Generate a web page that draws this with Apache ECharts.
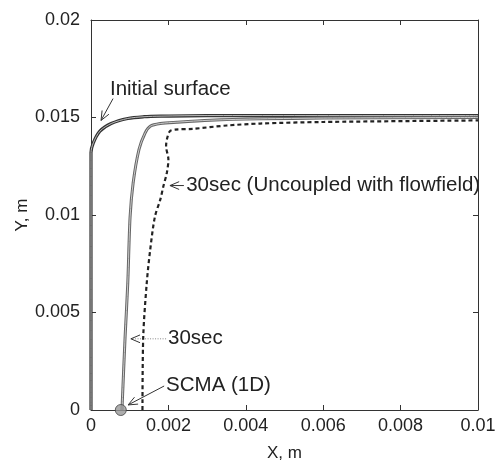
<!DOCTYPE html>
<html><head><meta charset="utf-8">
<script src="https://cdn.jsdelivr.net/npm/echarts@6/dist/echarts.min.js"></script>
<style>html,body{margin:0;padding:0;background:#fff}#c{width:496px;height:460px}</style>
</head><body><div id="c"></div>
<script>
const xTicks = [0, 0.002, 0.004, 0.006, 0.008, 0.01];
const yTicks = [0, 0.005, 0.01, 0.015, 0.02];
const initialSurface = [[0,0],[0,0.0132],[0.00006,0.0137],[0.00023,0.0143],[0.00052,0.01469],[0.00095,0.01495],[0.00137,0.01504],[0.00181,0.01507],[0.003,0.0151],[0.01,0.0151]];
const sec30 = [[0.0008,0],[0.00088,0.0037],[0.00095,0.0065],[0.00101,0.0099],[0.00109,0.01166],[0.00124,0.01336],[0.0014,0.01421],[0.00153,0.01455],[0.00179,0.01469],[0.00222,0.01476],[0.00308,0.01486],[0.00437,0.01493],[0.006,0.01497],[0.01,0.0150]];
const sec30Uncoupled = [[0.00133,0],[0.00135,0.00377],[0.00144,0.0065],[0.00153,0.00822],[0.00165,0.0099],[0.00179,0.01079],[0.00187,0.01147],[0.00196,0.01217],[0.002,0.01284],[0.00194,0.01353],[0.00196,0.01387],[0.00204,0.0143],[0.00217,0.01438],[0.00264,0.01442],[0.00351,0.01459],[0.00437,0.01469],[0.006,0.01477],[0.01,0.01485]];
const scma = [[0.00077, 0]];
// annotations: text anchor, arrow tail, arrow head (data units)
const notes = [
  {text:'Initial surface', at:[0.00049,0.01644], tail:[0.00057,0.01597], head:[0.00026,0.01485], dotted:false},
  {text:'30sec (Uncoupled with flowfield)', at:[0.00246,0.01151], tail:[0.00240,0.01151], head:[0.00204,0.01151], dotted:false},
  {text:'30sec', at:[0.00199,0.00365], tail:[0.00194,0.00365], head:[0.00103,0.00365], dotted:true},
  {text:'SCMA (1D)', at:[0.00194,0.00128], tail:[0.00189,0.00123], head:[0.00096,0.00026], dotted:false}
];
const FONT = '"Liberation Sans", Arial, sans-serif';
const chart = echarts.init(document.getElementById('c'));
const axCommon = {
  type:'value', splitLine:{show:false},
  axisLine:{show:true, onZero:false, lineStyle:{color:'#333', width:1}},
  axisTick:{show:true, inside:true, length:5, lineStyle:{color:'#333'}},
};
chart.setOption({
  animation:false,
  grid:{left:91, right:18, top:20, bottom:50, containLabel:false, outerBoundsMode:'none'},
  xAxis:[
    Object.assign({}, axCommon, {min:0, max:0.01, interval:0.002, position:'bottom',
      name:'X, m', nameLocation:'middle', nameGap:35, nameMoveOverlap:false, nameTextStyle:{fontSize:17, color:'#222', fontFamily:FONT},
      axisLabel:{fontSize:18, color:'#222', fontFamily:FONT, margin:7}}),
    Object.assign({}, axCommon, {min:0, max:0.01, interval:0.002, position:'top', axisLabel:{show:false}})
  ],
  yAxis:[
    Object.assign({}, axCommon, {min:0, max:0.02, interval:0.005, position:'left',
      name:'Y, m', nameLocation:'middle', nameGap:60, nameMoveOverlap:false, nameTextStyle:{fontSize:17, color:'#222', fontFamily:FONT},
      axisLabel:{fontSize:18, color:'#222', fontFamily:FONT, margin:11}}),
    Object.assign({}, axCommon, {min:0, max:0.02, interval:0.005, position:'right', axisLabel:{show:false}})
  ],
  series:[
    {type:'line', data:initialSurface, showSymbol:false, smooth:0.3, lineStyle:{color:'#333', width:3.2}, z:3},
    {type:'line', data:initialSurface, showSymbol:false, smooth:0.3, lineStyle:{color:'#bbb', width:1}, z:4},
    {type:'line', data:sec30, showSymbol:false, smooth:0.3, lineStyle:{color:'#666', width:3}, z:3},
    {type:'line', data:sec30, showSymbol:false, smooth:0.3, lineStyle:{color:'#ccc', width:1}, z:4},
    {type:'line', data:sec30Uncoupled, showSymbol:false, smooth:0.3, lineStyle:{color:'#222', width:2.2, type:[4,3]}, z:3},
    {type:'scatter', data:scma, symbol:'circle', symbolSize:11, itemStyle:{color:'#999', borderColor:'#444', borderWidth:1}, z:6}
  ]
});
const els = [];
notes.forEach(n => {
  const p = chart.convertToPixel({xAxisIndex:0, yAxisIndex:0}, n.at);
  const t = chart.convertToPixel({xAxisIndex:0, yAxisIndex:0}, n.tail);
  const h = chart.convertToPixel({xAxisIndex:0, yAxisIndex:0}, n.head);
  els.push({type:'text', x:p[0], y:p[1], style:{text:n.text, fontSize:20.5, fontFamily:FONT, fill:'#222', verticalAlign:'middle', align:'left'}});
  const col = n.dotted ? '#888' : '#333';
  els.push({type:'line', shape:{x1:t[0], y1:t[1], x2:h[0], y2:h[1]}, style:{stroke:col, lineWidth:1, lineDash:n.dotted?[1,1.5]:null}});
  const ang = Math.atan2(t[1]-h[1], t[0]-h[0]);
  const L = 10, a = 0.4;
  els.push({type:'polyline', shape:{points:[[h[0]+L*Math.cos(ang+a), h[1]+L*Math.sin(ang+a)],[h[0],h[1]],[h[0]+L*Math.cos(ang-a), h[1]+L*Math.sin(ang-a)]]}, style:{stroke:'#333', lineWidth:1, fill:null}});
});
chart.setOption({graphic:els});
</script></body></html>
